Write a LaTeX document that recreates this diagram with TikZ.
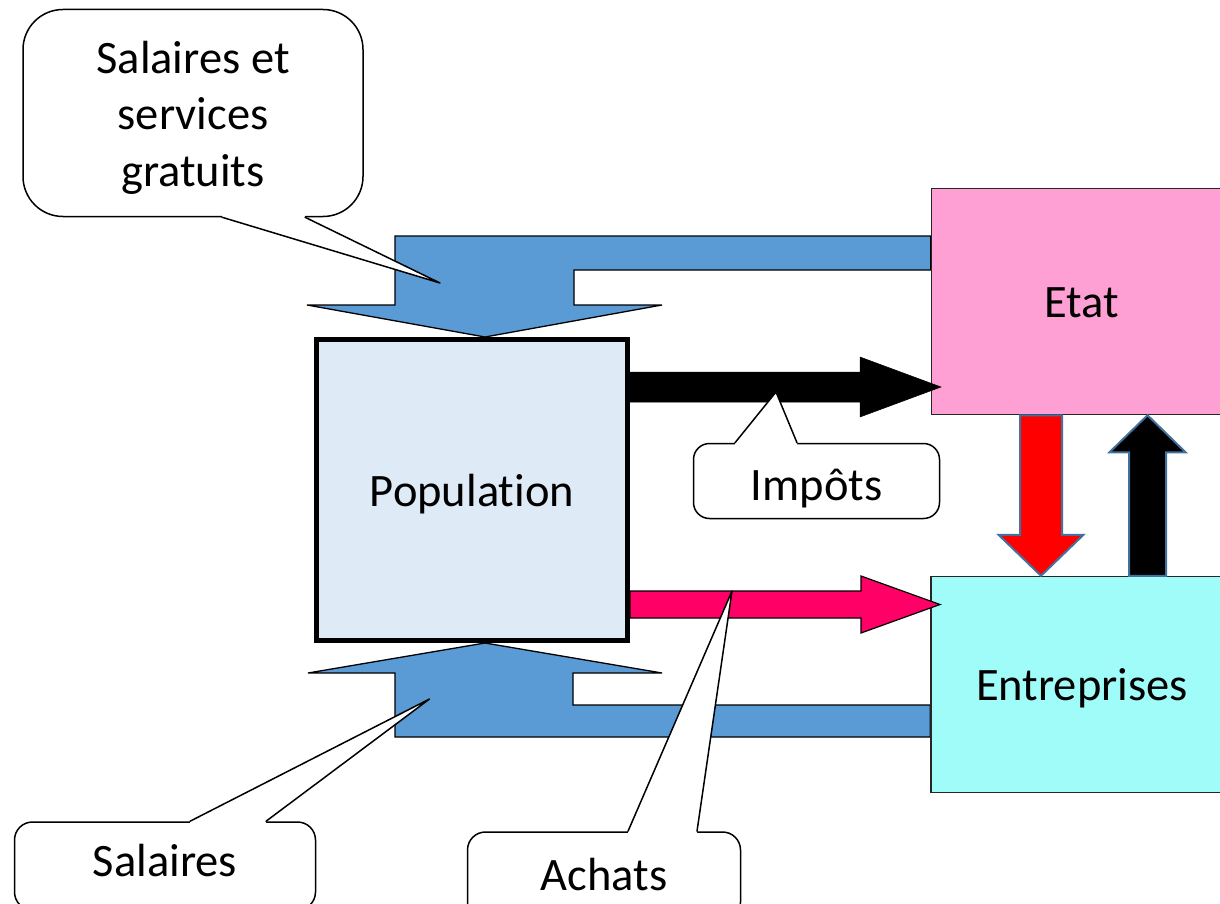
\documentclass[tikz,border=0pt]{standalone}
\usepackage{fontspec}
\setmainfont{Carlito}[Ligatures=NoCommon]
\usetikzlibrary{calc}

\definecolor{flowblue}{HTML}{5B9BD5}
\definecolor{popfill}{HTML}{DEEBF7}
\definecolor{etatpink}{HTML}{FFA0D5}
\definecolor{entcyan}{HTML}{A0FCF9}
\definecolor{achatpink}{HTML}{FF0066}
\definecolor{edgeblue}{HTML}{41719C}

\pgfdeclarelayer{bg}
\pgfsetlayers{bg,main}

% Block arrow from #2 (tail) to #3 (tip): shaft half width #4,
% head half width #5, head length #6
\newcommand\fatarrow[6]{%
  \path ($(#3)!#6!(#2)$) coordinate (fa-b);
  \draw[#1] ($(#2)!#4!90:(#3)$) -- ($(fa-b)!#4!-90:(#2)$)
    -- ($(fa-b)!#5!-90:(#2)$) -- (#3) -- ($(fa-b)!#5!90:(#2)$)
    -- ($(fa-b)!#4!90:(#2)$) -- ($(#2)!#4!-90:(#3)$) -- cycle;}

% Callout pointer leaving box edge #1 between x offsets #2 and #3,
% ending at #4; #5 pushes the white patch over the box border
\newcommand\pointer[5]{%
  \coordinate (pt-a) at ($(#1)+(#2,0)$);
  \coordinate (pt-b) at ($(#1)+(#3,0)$);
  \fill[white] ($(pt-a)+(0,#5)$) -- (pt-a) -- (#4) -- (pt-b) -- ($(pt-b)+(0,#5)$) -- cycle;
  \draw[callline] (pt-a) -- (#4) -- (pt-b);}

\begin{document}
\begin{tikzpicture}[x=1pt,y=-1pt,
  txt/.style={font=\fontsize{46.5}{56}\selectfont, text depth=0pt},
  mainbox/.style={txt, draw=black!85, line width=1.5pt, inner sep=0pt},
  flow/.style={fill=flowblue, draw=black, line width=1.3pt, line join=miter},
  callbox/.style={txt, draw=black, fill=white, line width=1.5pt, align=center, inner sep=0pt},
  callline/.style={draw=black, line width=1.5pt, line join=round, line cap=round}]
\useasboundingbox (0,0) rectangle (1220,904);

% sectors
\node[mainbox, draw=black, fill=popfill, line width=5pt, minimum width=311pt, minimum height=301pt,
      text height=33pt] (pop) at (472,490) {Population};
\node[mainbox, fill=etatpink, minimum width=301pt, minimum height=226pt,
      text height=32pt] (etat) at (1082,301.5) {Etat};
\node[mainbox, fill=entcyan, minimum width=302pt, minimum height=216pt,
      text height=31pt] (ent) at (1082,684.5) {Entreprises};

% bent flows into the population
\begin{pgfonlayer}{bg}
\draw[flow] (etat.west |- 0,236) -- (395,236) -- (395,305) -- (307,305)
  -- (485,0 |- pop.north) -- (662,305) -- (574,305) -- (574,270)
  -- (etat.west |- 0,270) -- cycle;
\draw[flow] (ent.west |- 0,737) -- (395,737) -- (395,673) -- (308,673)
  -- (485,0 |- pop.south) -- (662,673) -- (573,673) -- (573,705)
  -- (ent.west |- 0,705) -- cycle;
\end{pgfonlayer}

% straight flows
\coordinate (taxtip) at (941,387);
\coordinate (taxtail) at (pop.east |- taxtip);
\fatarrow{fill=black, draw=black, line width=0.5pt}{taxtail}{taxtip}{15pt}{30pt}{81pt}

\coordinate (buytip) at (940,604.5);
\coordinate (buytail) at (pop.east |- buytip);
\fatarrow{fill=achatpink, draw=black, line width=1.2pt}{buytail}{buytip}{13.5pt}{28.5pt}{79pt}

\coordinate (subtail) at ($(etat.south)+(-41,0)$);
\coordinate (subtip) at ($(ent.north)+(-41,0)$);
\fatarrow{fill=red, draw=edgeblue, line width=2pt}{subtail}{subtip}{21pt}{42.5pt}{41pt}

\coordinate (uptail) at ($(ent.north)+(65.5,0)$);
\coordinate (uptip) at ($(etat.south)+(65.5,0)$);
\fatarrow{fill=black, draw=edgeblue, line width=2pt}{uptail}{uptip}{18.5pt}{38pt}{37pt}

% callouts
\node[callbox, minimum width=340pt, minimum height=207pt, rounded corners=40pt,
      text height=146pt] (callSal) at (193,113) {Salaires et\\services\\gratuits};
\pointer{callSal.south}{29}{112}{440,283}{-3}

\node[callbox, minimum width=246pt, minimum height=75pt, rounded corners=16pt,
      text height=38pt] (callTax) at (816.5,481) {Impôts};
\pointer{callTax.north}{-81.5}{-19.5}{776,392}{3}

\node[callbox, minimum width=301pt, minimum height=88pt, rounded corners=18pt,
      text height=21pt] (callWage) at (165,866) {Salaires};
\pointer{callWage.north}{25}{101}{429.5,699}{3}

\node[callbox, minimum width=273pt, minimum height=88pt, rounded corners=18pt,
      text height=28pt] (callBuy) at (604,876) {Achats};
\pointer{callBuy.north}{24}{93}{732,591}{3}

\end{tikzpicture}
\end{document}
